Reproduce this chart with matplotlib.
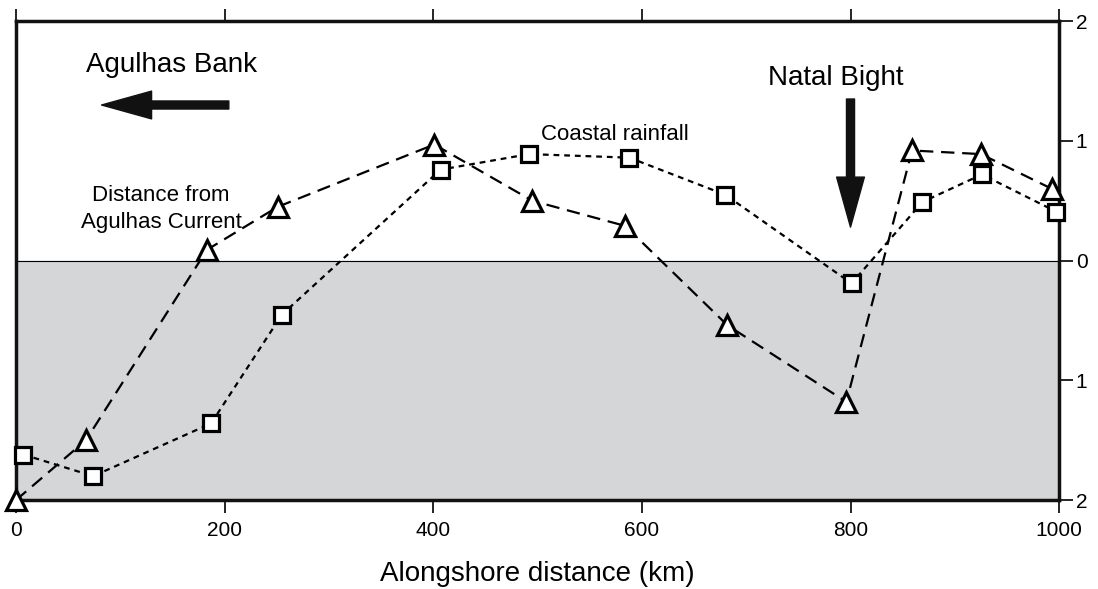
import matplotlib
matplotlib.use('Agg')
import matplotlib.pyplot as plt
from matplotlib.ticker import FixedLocator, FuncFormatter

plt.rcParams['font.family'] = ['Liberation Sans', 'DejaVu Sans']

# alongshore positions (km) and normalised anomalies
dist_x = [0, 67, 183, 251, 401, 495, 584, 682, 796, 859, 925, 993]
dist_y = [-2.0, -1.5, 0.09, 0.45, 0.97, 0.50, 0.29, -0.54, -1.18, 0.92, 0.89, 0.60]

rain_x = [7, 74, 187, 255, 407, 492, 588, 680, 801, 869, 926, 997]
rain_y = [-1.62, -1.80, -1.36, -0.45, 0.76, 0.89, 0.86, 0.55, -0.19, 0.49, 0.72, 0.41]

x_ticks = [0, 200, 400, 600, 800, 1000]
y_ticks = [-2, -1, 0, 1, 2]

fig = plt.figure(figsize=(10.98, 5.89), dpi=100)
ax = fig.add_axes([0.0146, 0.151, 0.95, 0.813])
ax.set_xlim(0, 1000)
ax.set_ylim(-2, 2)

# shaded lower half and zero line
ax.axhspan(-2, 0, color='#d5d6d8', zorder=0)
ax.axhline(0, color='black', lw=0.8, zorder=1)

ax.plot(dist_x, dist_y, color='black', lw=1.6, dashes=(6, 3.5),
        marker='^', ms=14.5, mfc='white', mec='black', mew=2.3, zorder=6,
        clip_on=False)
ax.plot(rain_x, rain_y, color='black', lw=1.6, dashes=(2.6, 2.2),
        marker='s', ms=11, mfc='white', mec='black', mew=2.3, zorder=7,
        clip_on=False)

# labels on the curves
ax.text(574, 1.01, 'Coastal rainfall', fontsize=16, ha='center', va='baseline')
ax.text(139, 0.50, 'Distance from', fontsize=16, ha='center', va='baseline')
ax.text(139, 0.276, 'Agulhas Current', fontsize=16, ha='center', va='baseline')

ax.text(149, 1.573, 'Agulhas Bank', fontsize=20, ha='center', va='baseline')
ax.annotate('', xy=(82, 1.30), xytext=(204, 1.30),
            arrowprops=dict(width=5.8, headwidth=20, headlength=36,
                            facecolor='#111111', edgecolor='#111111', shrink=0))

ax.text(786, 1.464, 'Natal Bight', fontsize=20, ha='center', va='baseline')
ax.annotate('', xy=(800, 0.28), xytext=(800, 1.35),
            arrowprops=dict(width=5.8, headwidth=20, headlength=36,
                            facecolor='#111111', edgecolor='#111111', shrink=0))

for s in ax.spines.values():
    s.set_linewidth(2.5)
    s.set_color('#111111')
    s.set_zorder(5)

ax.xaxis.set_major_locator(FixedLocator(x_ticks))
ax.tick_params(axis='x', which='both', top=True, bottom=True, labeltop=False,
               direction='out', length=9, width=1.2, labelsize=15, pad=6)
ax.yaxis.set_major_locator(FixedLocator(y_ticks))
ax.yaxis.set_major_formatter(FuncFormatter(lambda v, p: '%d' % abs(v)))
ax.tick_params(axis='y', left=False, labelleft=False, right=True, labelright=True,
               direction='out', length=10, width=1.2, labelsize=15, pad=2)

ax.set_xlabel('Alongshore distance (km)', fontsize=20, labelpad=15)

fig.savefig('out.png', dpi=100)
